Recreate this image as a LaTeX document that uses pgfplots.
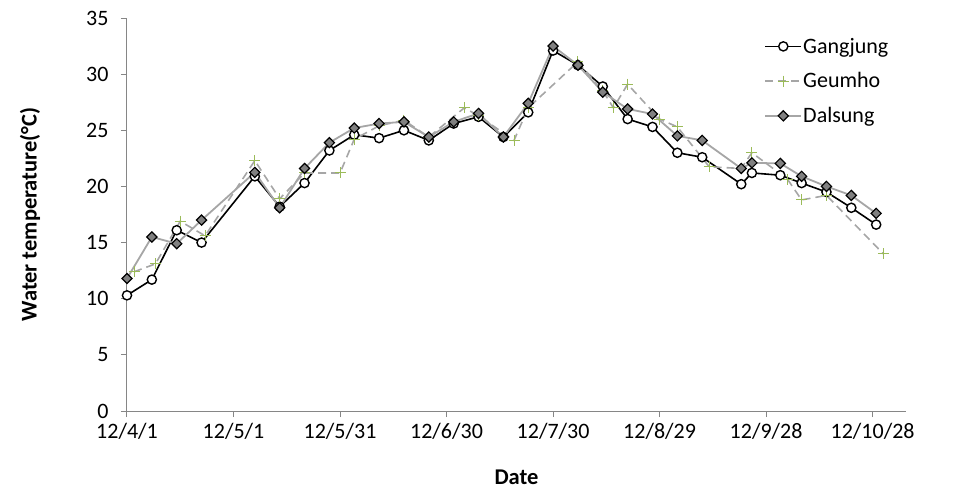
\documentclass[border=0pt]{standalone}
\usepackage{pgfplots}
\pgfplotsset{compat=1.18}
\usepackage{fontspec}
\setmainfont{Carlito}
\definecolor{axgray}{HTML}{868686}
\definecolor{lgray}{HTML}{A6A6A6}
\definecolor{dgray}{HTML}{808080}
\definecolor{pgreen}{HTML}{9BBB59}

\pgfplotstableread{
day val
0 10.3
7 11.7
14 16.1
21 15.0
36 20.9
43 18.2
50 20.3
57 23.2
64 24.6
71 24.3
78 25.0
85 24.1
92 25.6
99 26.2
106 24.4
113 26.6
120 32.1
127 30.8
134 28.9
141 26.0
148 25.3
155 23.0
162 22.6
173 20.2
176 21.2
184 21.0
190 20.3
197 19.5
204 18.1
211 16.6
}\gangjung

\pgfplotstableread{
day val
2 12.4
8 13.1
15 16.9
22 15.6
36 22.3
43 18.9
50 21.2
60 21.2
64 24.2
71 25.4
78 25.9
85 24.4
95 27.0
99 26.3
109 24.1
113 27.0
127 31.1
134 28.5
137 27.0
141 29.1
150 26.0
155 25.3
164 21.75
173 21.6
176 23.0
186 20.65
190 18.8
197 19.2
213 14.0
}\geumho

\pgfplotstableread{
day val
0 11.8
7 15.5
14 14.9
21 17.0
36 21.25
43 18.1
50 21.6
57 23.9
64 25.2
71 25.6
78 25.75
85 24.4
92 25.75
99 26.5
106 24.4
113 27.4
120 32.5
127 30.8
134 28.4
141 26.9
148 26.45
155 24.5
162 24.1
173 21.6
176 22.1
184 22.05
190 20.9
197 20.0
204 19.2
211 17.6
}\dalsung

\begin{document}
\begin{tikzpicture}
\path[use as bounding box] (0,0) rectangle (956pt,496pt);
\begin{axis}[
  at={(127pt,85pt)}, anchor=south west,
  scale only axis, width=779pt, height=393pt,
  xmin=0, xmax=219.4, ymin=0, ymax=35,
  axis lines=left,
  axis line style={axgray, line width=1pt, -},
  xtick={0,30,...,210},
  xticklabels={12/4/1,12/5/1,12/5/31,12/6/30,12/7/30,12/8/29,12/9/28,12/10/28},
  ytick={0,5,...,35},
  tick align=outside, major tick length=6pt,
  tick style={axgray, line width=1pt},
  ticklabel style={font=\fontsize{22}{26}\selectfont},
  xticklabel style={yshift=-3pt},
  yticklabel style={xshift=-9pt},
  /pgf/number format/assume math mode=true,
  xlabel={Date}, ylabel={Water temperature(°C)},
  label style={font=\bfseries\fontsize{22.5}{26}\selectfont},
  xlabel style={at={(axis description cs:0.5,-0.168)}, anchor=center},
  ylabel style={at={(axis description cs:-0.1245,0.5)}, anchor=center},
  legend style={at={(0.818,0.952)}, anchor=north west, draw=none, fill=none,
    font=\fontsize{22}{26}\selectfont, row sep=16pt, inner sep=0pt,
    nodes={inner sep=1pt}},
  legend cell align=left,
  legend image code/.code={\draw[mark repeat=2,mark phase=2] plot coordinates {(0pt,0pt) (18pt,0pt) (36pt,0pt)};},
  clip=false,
]
\addplot[black, line width=1.6pt, mark=*, mark size=4.6pt,
  mark options={fill=white, draw=black, line width=1.4pt, solid}]
  table[x=day, y=val] {\gangjung};
\addlegendentry{Gangjung}
\addplot[lgray, line width=1.6pt, dash pattern=on 8pt off 5pt, mark=+, mark size=5.5pt,
  mark options={pgreen, line width=1pt, solid}]
  table[x=day, y=val] {\geumho};
\addlegendentry{Geumho}
\addplot[lgray, line width=1.8pt, mark=square*, mark size=3.6pt,
  mark options={fill=dgray, draw=black, line width=1.2pt, rotate=45, solid}]
  table[x=day, y=val] {\dalsung};
\addlegendentry{Dalsung}
\end{axis}
\end{tikzpicture}
\end{document}
